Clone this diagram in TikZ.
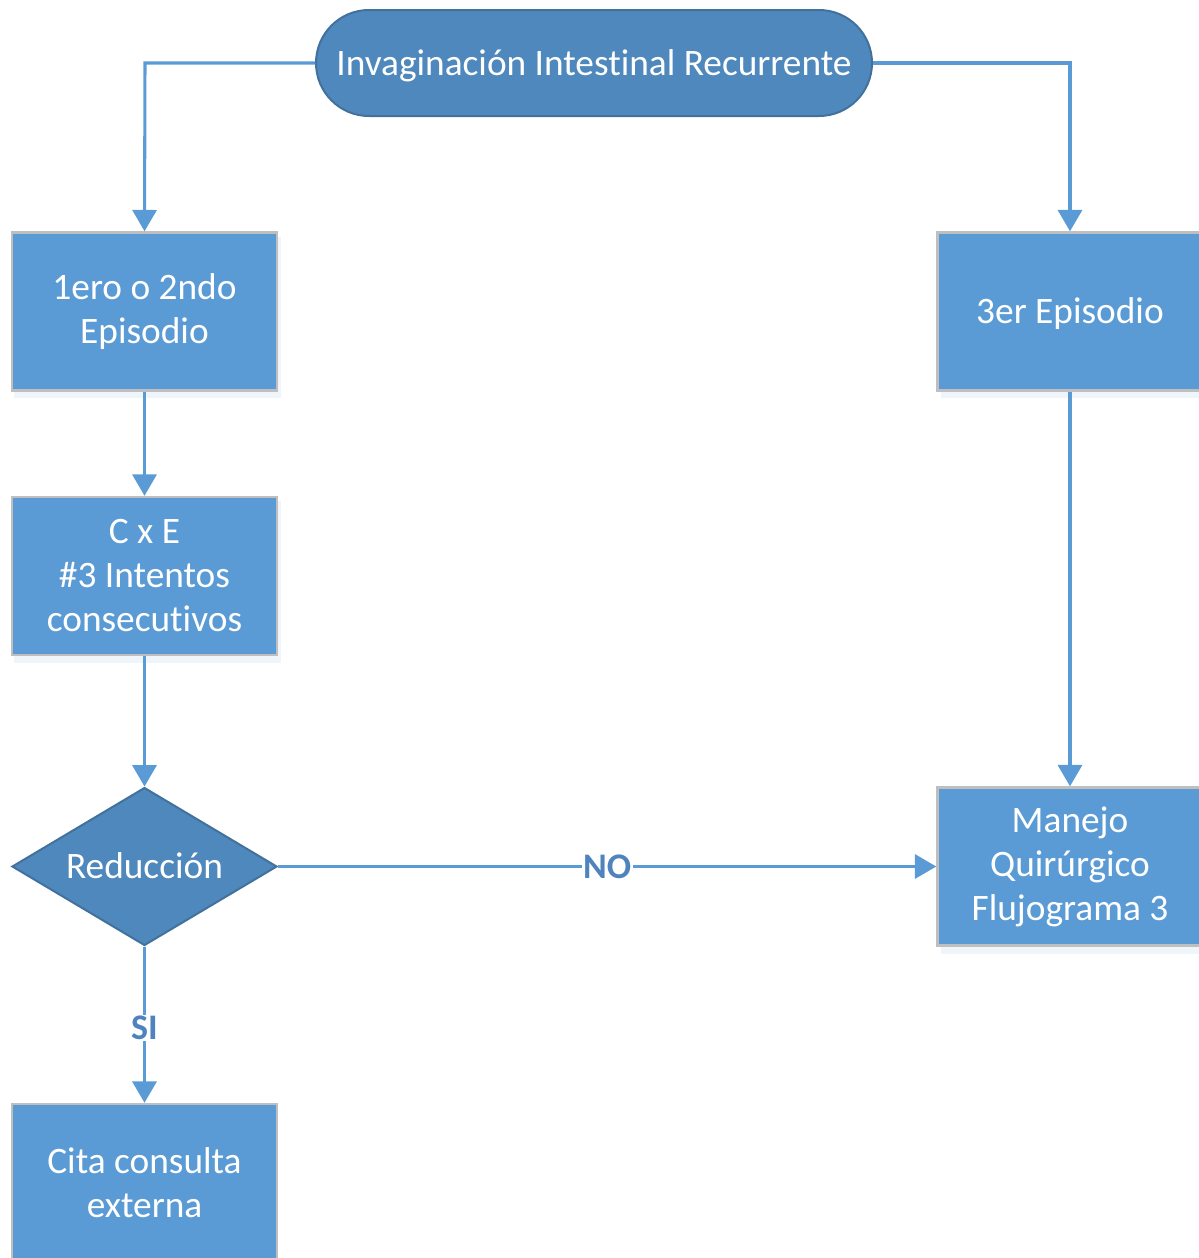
\documentclass[tikz,border=0pt]{standalone}
\usepackage{fontspec}
\setmainfont[Ligatures=NoCommon,Contextuals=NoAlternate]{Carlito}
\usetikzlibrary{arrows.meta,shapes.geometric}
\definecolor{boxblue}{HTML}{5B9BD5}
\definecolor{darkfill}{HTML}{4F88BC}
\definecolor{darkedge}{HTML}{41719C}
\definecolor{lineblue}{HTML}{5B9BD5}
\definecolor{labelblue}{HTML}{4F83BD}
\definecolor{edgegray}{HTML}{BFBFBF}
\tikzset{
  procbox/.style={draw=edgegray, line width=1.8pt, fill=boxblue, minimum width=198.75pt, minimum height=118.5pt, text=white, align=center, font=\fontsize{28}{33}\selectfont, inner sep=0pt},
  oneline/.style={text height=24pt, text depth=6pt},
  termbox/.style={draw=darkedge, line width=1.5pt, fill=darkfill, rounded corners=39.75pt, minimum width=417pt, minimum height=79.5pt, text=white, font=\fontsize{28}{33}\selectfont, inner sep=0pt},
  decbox/.style={draw=darkedge, line width=1.5pt, fill=darkfill, diamond, aspect=1.67, minimum width=198.75pt, minimum height=118.5pt, text=white, font=\fontsize{28}{33}\selectfont, inner sep=0pt},
  conn/.style={draw=lineblue, line width=2.3pt, -{Triangle[length=16pt,width=18pt]}},
  lbl/.style={fill=white, text=labelblue, font=\fontsize{27}{30}\selectfont\bfseries, inner sep=1pt}
}
\begin{document}
\begin{tikzpicture}[x=0.75pt,y=-0.75pt]
\useasboundingbox (0,0) rectangle (1199,1258);
\clip (0,0) rectangle (1199,1258);
% shadows
\begin{scope}[opacity=0.10]
\fill[lineblue] (14,237) rectangle (281,398);
\fill[lineblue] (14,501) rectangle (281,663);
\fill[lineblue] (941,237) rectangle (1210,398);
\fill[lineblue] (941,791) rectangle (1210,954);
\end{scope}
\node[termbox, oneline] (t) at (594,63) {Invaginación Intest\kern0pt inal Recurrente};
\node[procbox] (a) at (144.5,311.5) {1ero o 2ndo\\Episodio};
\node[procbox] (b) at (144.5,576) {C x E\\\#3 Intentos\\consecut\kern0pt ivos};
\node[decbox, oneline] (d) at (144.5,866.5) {Reducción};
\node[procbox] (c) at (144.5,1183) {Cita consulta\\externa};
\node[procbox, oneline] (e) at (1070,311.5) {3er Episodio};
\node[procbox] (m) at (1070,866.5) {Manejo\\Quirúrgico\\Flujograma 3};
\coordinate (tl) at (145,63);
\coordinate (tr) at (1070,63);
\draw[conn] (t.west) -- (tl) -- (a.north);
\draw[conn] (t.east) -- (tr) -- (e.north);
\draw[conn] (a.south) -- (b.north);
\draw[conn] (b.south) -- (d.north);
\draw[conn] (d.east) -- node[lbl, pos=0.5] {NO} (m.west);
\draw[conn] (d.south) -- node[lbl, pos=0.52] {SI} (c.north);
\draw[conn] (e.south) -- (m.north);
\end{tikzpicture}
\end{document}
